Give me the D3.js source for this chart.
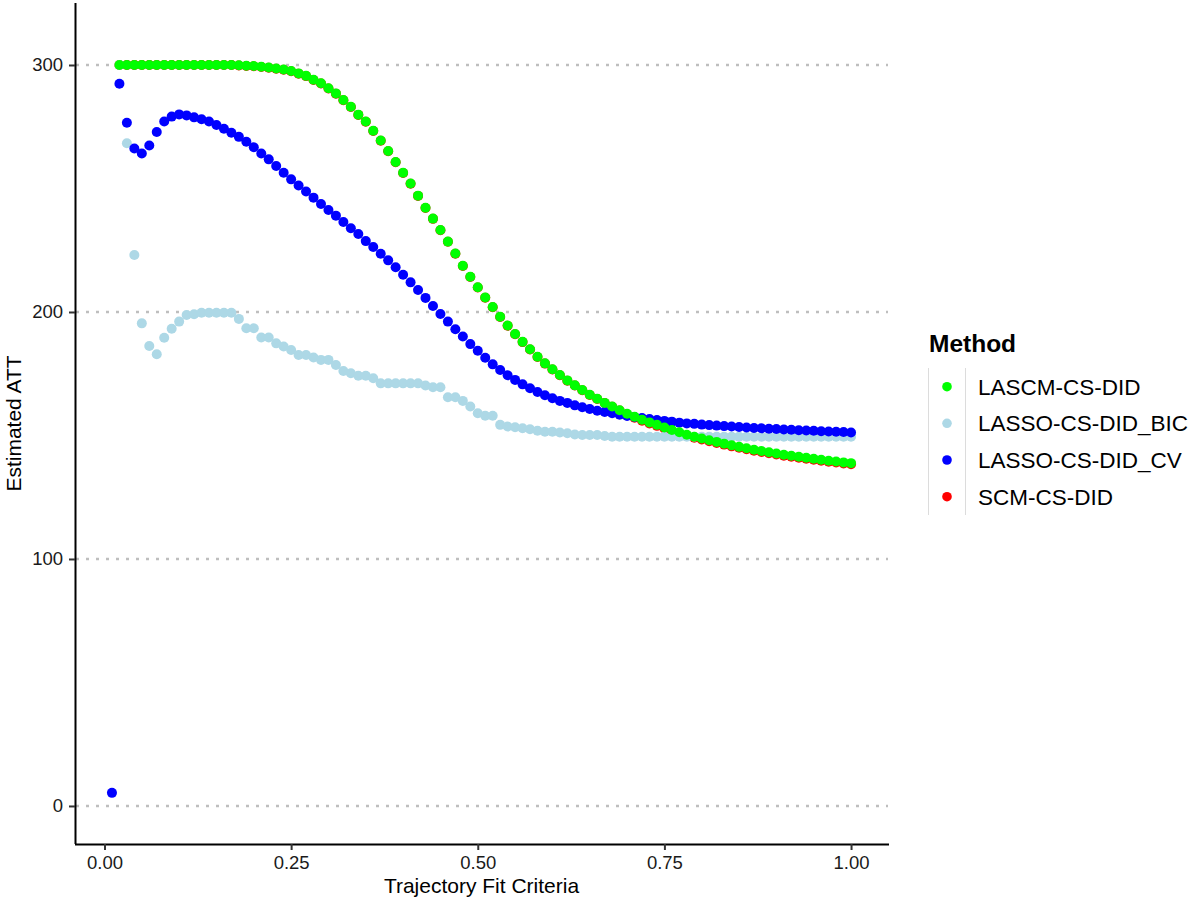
<!DOCTYPE html>
<html>
<head>
<meta charset="utf-8">
<script src="https://cdn.jsdelivr.net/npm/d3@7"></script>
<style>
  html, body { margin: 0; padding: 0; background: #fff; }
  svg { display: block; font-family: "Liberation Sans", Arial, sans-serif; }
</style>
</head>
<body>
<div id="chart"></div>
<script>
// Trajectory fit grid (0.01 ... 1.00)
const criteria = d3.range(1, 101).map(i => i / 100);

const methods = ['LASCM-CS-DID', 'LASSO-CS-DID_BIC', 'LASSO-CS-DID_CV', 'SCM-CS-DID'];
const methodColors = ['#00ff00', '#add8e6', '#0000ff', '#ff0000'];

// Estimated ATT per method, one value per criteria step (null = not estimated)
const lascm = [null,
  300, 300, 300, 300, 300, 300, 300, 300, 300, 300, 300, 300, 300, 300, 300, 300,
  299.9, 299.7, 299.6, 299.3, 299.0, 298.6, 298.2, 297.6, 296.6, 295.6, 294.0, 292.6,
  290.6, 288.5, 285.8, 283.1, 279.9, 277.1, 273.4, 269.4, 265.2, 260.7, 256.4, 252.0,
  247.1, 242.2, 237.8, 233.2, 228.5, 223.7, 218.7, 214.3, 210.0, 205.9, 202.0, 198.1,
  194.5, 191.1, 187.9, 184.9, 181.9, 179.2, 176.8, 174.5, 172.3, 170.3, 168.4, 166.5,
  164.9, 163.2, 161.7, 160.2, 158.8, 157.6, 156.4, 155.3, 154.3, 153.2, 152.2, 151.3,
  150.3, 149.5, 148.8, 148.1, 147.4, 146.7, 146.0, 145.4, 144.8, 144.2, 143.7, 143.2,
  142.7, 142.2, 141.8, 141.4, 141.0, 140.6, 140.2, 139.8, 139.5, 139.1, 138.8];

const lassoBic = [null,
  300, 268.3, 223.1, 195.4, 186.2, 182.9, 189.6, 193.2, 196.1, 198.8, 199.1, 199.7,
  199.7, 199.7, 199.7, 199.7, 197.2, 193.4, 193.4, 189.7, 189.7, 187.3, 186.0, 184.6,
  182.6, 182.6, 181.6, 180.6, 180.6, 178.5, 176.1, 175.2, 174.2, 174.2, 173.2, 171.1,
  171.1, 171.1, 171.1, 171.1, 171.1, 170.2, 169.5, 169.5, 165.5, 165.5, 164.0, 161.7,
  159.0, 158.0, 158.0, 154.3, 153.6, 153.3, 152.9, 152.5, 151.9, 151.5, 151.5, 151.2,
  150.9, 150.4, 150.2, 150.2, 150.2, 149.8,
  149.5, 149.5, 149.5, 149.5, 149.5, 149.5, 149.5, 149.5, 149.5, 149.5, 149.5,
  149.5, 149.5, 149.5, 149.5, 149.5, 149.5, 149.5, 149.5, 149.5, 149.5, 149.5,
  149.5, 149.5, 149.5, 149.5, 149.5, 149.5, 149.5, 149.5, 149.5, 149.5, 149.5];

const lassoCv = [5.3,
  292.4, 276.6, 266.2, 264.2, 267.4, 272.9, 277.1, 279.1, 280.0, 279.6, 278.8, 278.0,
  277.1, 275.7, 274.2, 272.6, 270.9, 268.9, 266.7, 264.2, 261.8, 259.1, 256.4, 253.7,
  251.2, 248.8, 246.3, 243.7, 241.3, 239.0, 236.4, 233.9, 231.6, 228.7, 226.3, 223.6,
  220.9, 218.1, 215.1, 212.0, 208.9, 205.7, 202.4, 199.2, 196.1, 193.0, 190.1, 187.0,
  184.3, 181.5, 178.8, 176.5, 174.4, 172.5, 170.7, 169.1, 167.6, 166.3, 165.1, 164.0,
  163.2, 162.2, 161.4, 160.7, 160.0, 159.5, 159.0, 158.4, 157.9, 157.5, 157.1, 156.7,
  156.3, 155.9, 155.6, 155.2, 154.9, 154.7, 154.4, 154.2, 154.0, 153.8, 153.6, 153.4,
  153.2, 153.0, 152.9, 152.7, 152.6, 152.4, 152.3, 152.1, 152.0, 151.9, 151.7, 151.6,
  151.5, 151.4, 151.2];

const scm = [null,
  300, 300, 300, 300, 300, 300, 300, 300, 300, 300, 300, 300, 300, 300, 300, 300,
  299.8, 299.6, 299.5, 299.2, 298.9, 298.5, 298.1, 297.5, 296.5, 295.5, 293.9, 292.5,
  290.5, 288.4, 285.7, 283.0, 279.8, 277.0, 273.3, 269.3, 265.1, 260.6, 256.3, 251.9,
  247.0, 242.1, 237.7, 233.1, 228.4, 223.6, 218.6, 214.2, 209.9, 205.8, 201.9, 198.0,
  194.4, 191.0, 187.8, 184.8, 181.8, 179.1, 176.7, 174.4, 172.2, 170.2, 168.3, 166.4,
  164.8, 163.1, 161.6, 160.1,
  158.4, 157.2, 156.0, 154.9, 153.9, 152.8, 151.8, 150.9, 149.9, 149.1, 148.4, 147.7,
  147.0, 146.3, 145.6, 145.0, 144.4, 143.8, 143.3, 142.8, 142.3, 141.8, 141.4, 141.0,
  140.6, 140.2, 139.8, 139.4, 139.1, 138.7, 138.4];

const seriesValues = [lascm, lassoBic, lassoCv, scm];

const xTicks = [0, 0.25, 0.5, 0.75, 1];
const yTicks = [0, 100, 200, 300];

const width = 1197;
const height = 901;

const svg = d3.select('#chart')
  .append('svg')
  .attr('width', width)
  .attr('height', height);

// Panel bounds (ggplot-style expanded ranges)
const x = d3.scaleLinear().domain([-0.0395, 1.0495]).range([75, 888]);
const y = d3.scaleLinear().domain([-15.4, 325.1]).range([844, 3]);

// Dotted horizontal grid
svg.append('g')
  .selectAll('line')
  .data(yTicks)
  .join('line')
  .attr('x1', 76).attr('x2', 888)
  .attr('y1', d => y(d)).attr('y2', d => y(d))
  .attr('stroke', '#bebebe')
  .attr('stroke-width', 2.6)
  .attr('stroke-dasharray', '3,7');

// Points: draw SCM first so LASCM sits on top of it
const drawOrder = [3, 1, 2, 0];
const pointsGroup = svg.append('g').attr('class', 'points');
drawOrder.forEach(si => {
  const pts = criteria
    .map((c, i) => ({ c, v: seriesValues[si][i] }))
    .filter(d => d.v !== null);
  pointsGroup.append('g')
    .selectAll('circle')
    .data(pts)
    .join('circle')
    .attr('cx', d => x(d.c))
    .attr('cy', d => y(d.v))
    .attr('r', 5)
    .attr('fill', methodColors[si]);
});

// Axes
const xAxis = svg.append('g')
  .attr('transform', `translate(0, ${y.range()[0]})`)
  .call(d3.axisBottom(x).tickValues(xTicks).tickFormat(d3.format('.2f')).tickSizeOuter(0).tickSize(6).tickPadding(6));

const yAxis = svg.append('g')
  .attr('transform', `translate(${x.range()[0]}, 0)`)
  .call(d3.axisLeft(y).tickValues(yTicks).tickFormat(d3.format('d')).tickSizeOuter(0).tickSize(6).tickPadding(6));

[xAxis, yAxis].forEach(a => {
  a.select('.domain').attr('stroke', '#000').attr('stroke-width', 2);
  a.selectAll('.tick line').attr('stroke', '#333').attr('stroke-width', 2);
  a.selectAll('.tick text')
    .attr('fill', '#1a1a1a')
    .attr('font-size', '18.5px')
    .attr('font-family', '"Liberation Sans", Arial, sans-serif');
});
xAxis.select('.domain').attr('d', `M${x.range()[0]},0.5H${x.range()[1] + 1}`);
yAxis.select('.domain').attr('d', `M0.5,${y.range()[0]}V${y.range()[1]}`);

// Axis titles
svg.append('text')
  .attr('x', (x.range()[0] + x.range()[1]) / 2)
  .attr('y', 893)
  .attr('text-anchor', 'middle')
  .attr('font-size', '21px')
  .attr('fill', '#000')
  .text('Trajectory Fit Criteria');

svg.append('text')
  .attr('transform', `translate(21, ${(y.range()[0] + y.range()[1]) / 2}) rotate(-90)`)
  .attr('text-anchor', 'middle')
  .attr('font-size', '21px')
  .attr('fill', '#000')
  .text('Estimated ATT');

// Legend
const legend = svg.append('g').attr('transform', 'translate(929, 0)');

legend.append('text')
  .attr('x', 0)
  .attr('y', 352)
  .attr('font-size', '24.5px')
  .attr('font-weight', '700')
  .attr('fill', '#000')
  .text('Method');

const rowY = [386.7, 423.3, 460, 496.7];

[-0.5, 36.5].forEach(lx => {
  legend.append('line')
    .attr('x1', lx).attr('x2', lx)
    .attr('y1', 368).attr('y2', 515)
    .attr('stroke', '#dcdcdc')
    .attr('stroke-width', 1);
});

methods.forEach((m, i) => {
  legend.append('circle')
    .attr('cx', 18)
    .attr('cy', rowY[i])
    .attr('r', 4.8)
    .attr('fill', methodColors[i]);
  legend.append('text')
    .attr('x', 49)
    .attr('y', rowY[i] + 8)
    .attr('font-size', '22.5px')
    .attr('fill', '#000')
    .text(m);
});
</script>
</body>
</html>
